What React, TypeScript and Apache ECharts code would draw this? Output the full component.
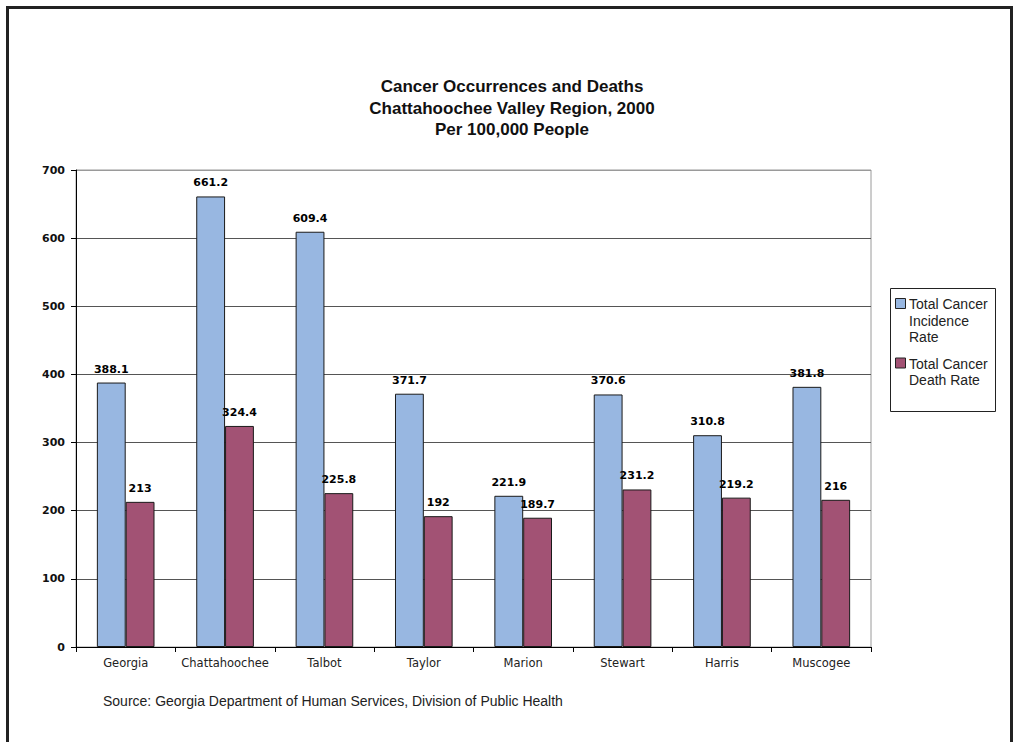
import React, { useEffect, useRef } from "react";
import * as echarts from "echarts";

const FONT = "'Liberation Sans', Arial, sans-serif";
const WIDE_FONT = "'DejaVu Sans', Verdana, sans-serif";

const counties = [
  "Georgia",
  "Chattahoochee",
  "Talbot",
  "Taylor",
  "Marion",
  "Stewart",
  "Harris",
  "Muscogee",
];

const incidenceRate = [388.1, 661.2, 609.4, 371.7, 221.9, 370.6, 310.8, 381.8];
const deathRate = [213, 324.4, 225.8, 192, 189.7, 231.2, 219.2, 216];

const seriesNames = ["Total Cancer Incidence Rate", "Total Cancer Death Rate"];
const legendLines = [
  ["Total Cancer", "Incidence", "Rate"],
  ["Total Cancer", "Death Rate"],
];
const seriesColors = ["#98B7E1", "#A25274"];

const titleLines = [
  "Cancer Occurrences and Deaths",
  "Chattahoochee Valley Region, 2000",
  "Per 100,000 People",
];
const sourceNote =
  "Source: Georgia Department of Human Services, Division of Public Health";

export default function App() {
  const ref = useRef<HTMLDivElement>(null);

  useEffect(() => {
    if (!ref.current) return;
    const chart = echarts.init(ref.current, null, { renderer: "svg" });

    const barLabel = {
      show: true,
      position: "top" as const,
      distance: 8,
      color: "#000",
      fontFamily: WIDE_FONT,
      fontSize: 11,
      fontWeight: "bold" as const,
    };

    // legend drawn by hand so the swatch sits beside the first text line
    const legendX = 890;
    const legendY = 288;
    const lineH = 16.5;
    const legendChildren: any[] = [
      {
        type: "rect",
        shape: { x: legendX + 0.5, y: legendY + 0.5, width: 105, height: 123 },
        style: { fill: "#fff", stroke: "#222", lineWidth: 1 },
      },
    ];
    let rowY = legendY + 16;
    legendLines.forEach((lines, i) => {
      legendChildren.push({
        type: "rect",
        shape: { x: legendX + 5.5, y: rowY - 5.5, width: 10, height: 10 },
        style: { fill: seriesColors[i], stroke: "#222", lineWidth: 1 },
      });
      legendChildren.push({
        type: "text",
        x: legendX + 19,
        y: rowY - lineH / 2,
        style: {
          text: lines.join("\n"),
          fill: "#222",
          font: `14px ${FONT}`,
          lineHeight: lineH,
          align: "left",
          verticalAlign: "top",
        },
      });
      rowY += lines.length * lineH + 10;
    });

    const barSeries = (name: string, data: number[], color: string) => ({
      name,
      type: "bar",
      data,
      barGap: "0%",
      barCategoryGap: "42%",
      itemStyle: { color, borderColor: "#1a1a1a", borderWidth: 1 },
      label: barLabel,
    });

    chart.setOption({
      animation: false,
      backgroundColor: "#fff",
      title: {
        text: titleLines.join("\n"),
        left: 512,
        top: 76,
        padding: 0,
        textAlign: "center",
        textStyle: {
          fontFamily: FONT,
          fontSize: 17,
          fontWeight: "bold",
          color: "#111",
          lineHeight: 21.5,
        },
      },
      grid: {
        left: 76,
        right: 145,
        top: 170,
        bottom: 95,
        show: true,
        borderColor: "#9a9a9a",
        borderWidth: 1,
        backgroundColor: "transparent",
      },
      xAxis: {
        type: "category",
        data: counties,
        axisLine: { lineStyle: { color: "#000", width: 1 } },
        axisTick: { show: true, interval: 0, length: 5, lineStyle: { color: "#000" } },
        axisLabel: {
          interval: 0,
          hideOverlap: false,
          margin: 10,
          color: "#222",
          fontFamily: WIDE_FONT,
          fontSize: 11.5,
        },
      },
      yAxis: {
        type: "value",
        min: 0,
        max: 700,
        interval: 100,
        axisLine: { show: true, lineStyle: { color: "#000", width: 1 } },
        axisTick: { show: true, length: 5, lineStyle: { color: "#000" } },
        axisLabel: {
          margin: 11,
          color: "#111",
          fontFamily: WIDE_FONT,
          fontSize: 11,
          fontWeight: "bold",
        },
        splitLine: {
          show: true,
          lineStyle: {
            color: ["#555", "#555", "#555", "#555", "#555", "#555", "#555", "#9a9a9a"],
            width: 1,
          },
        },
      },
      series: [
        barSeries(seriesNames[0], incidenceRate, seriesColors[0]),
        barSeries(seriesNames[1], deathRate, seriesColors[1]),
      ],
      graphic: [
        {
          type: "rect",
          silent: true,
          shape: { x: 7.5, y: 7.5, width: 1004, height: 800 },
          style: { fill: "none", stroke: "#222", lineWidth: 3 },
          z: 100,
        },
        {
          type: "text",
          x: 103,
          y: 701,
          style: {
            text: sourceNote,
            fill: "#222",
            font: `14px ${FONT}`,
            align: "left",
            verticalAlign: "middle",
          },
        },
        { type: "group", children: legendChildren },
      ],
    });

    return () => chart.dispose();
  }, []);

  return (
    <div
      ref={ref}
      style={{ position: "absolute", left: 0, top: 0, width: 1016, height: 742 }}
    />
  );
}
